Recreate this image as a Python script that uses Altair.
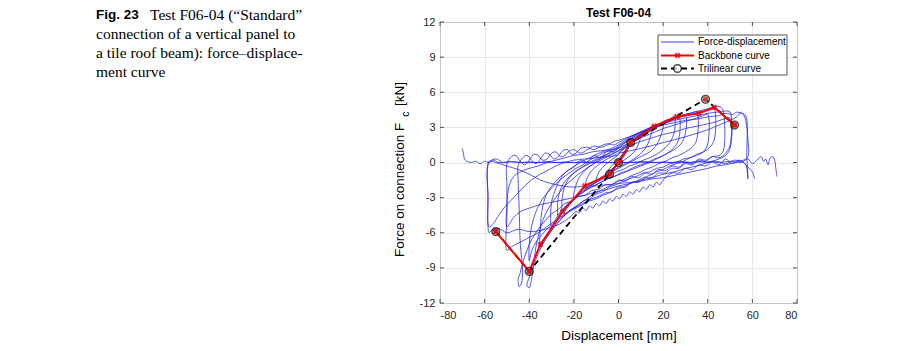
import altair as alt
import pandas as pd

# ---------------- data ----------------
X_TICKS = [-80, -60, -40, -20, 0, 20, 40, 60, 80]
Y_TICKS = [-12, -9, -6, -3, 0, 3, 6, 9, 12]

backbone_x = [-55, -40, -35, -25, -15, -4, 0, 5.5, 16, 26, 36, 43, 52]
backbone_y = [-5.9, -9.3, -7.0, -4.2, -2.0, -1.0, 0.0, 1.7, 3.1, 3.9, 4.2, 4.7, 3.2]

trilinear_x = [-55, -40, -4, 0, 5.5, 39, 52]
trilinear_y = [-5.9, -9.3, -1.0, 0.0, 1.7, 5.4, 3.2]

# hysteresis trace, read cycle by cycle (displacement [mm], force [kN])
c01_x = [0, 2, 4, 5, 4, 2, 0, -2, -4, -5, -4, -2, 0, 3, 6, 8, 10, 9, 7, 4, 1, -2, -5, -8, -10, -9, -7, -4, -1, 0]
c01_y = [0, 0.7, 1.3, 1.6, 1.0, 0.4, 0.0, -0.4, -0.8, -1.0, -0.5, -0.1, 0.3, 1.0, 1.7, 2.1, 2.4, 1.6, 0.9, 0.4, 0.0, -0.4, -0.9, -1.3, -1.6, -0.9, -0.4, 0.1, 0.5, 0.7]

c02_x = [0, 3, 6, 9, 12, 15, 14, 12, 9, 6, 3, 0, -3, -6, -9, -12, -15, -14, -12, -9, -6, -3, 0]
c02_y = [0.7, 1.3, 1.8, 2.3, 2.7, 3.0, 2.0, 1.2, 0.6, 0.2, -0.1, -0.4, -0.8, -1.2, -1.6, -1.9, -2.2, -1.3, -0.7, -0.2, 0.2, 0.5, 0.8]

c03_x = [0, 4, 8, 12, 16, 20, 19, 17, 14, 11, 8, 5, 2, -1, -4, -7, -10, -13, -16, -18, -20, -19, -17, -14, -11, -8, -5, -2, 0]
c03_y = [0.8, 1.4, 1.9, 2.4, 2.9, 3.4, 2.3, 1.5, 0.9, 0.6, 0.3, 0.0, -0.3, -0.6, -0.9, -1.3, -1.6, -2.0, -2.4, -2.7, -3.0, -1.9, -1.1, -0.5, -0.1, 0.2, 0.5, 0.8, 1.0]

c04_x = [0, 4, 8, 12, 16, 20, 23, 25, 25, 23, 20, 17, 14, 11, 8, 5, 2, -1, -4, -7, -10, -13, -16, -19, -22, -25, -25, -23, -20, -17, -14, -11, -8, -5, -2, 0]
c04_y = [1.0, 1.6, 2.1, 2.6, 3.0, 3.4, 3.7, 3.9, 2.6, 1.7, 1.1, 0.7, 0.4, 0.2, -0.1, -0.3, -0.6, -0.8, -1.1, -1.4, -1.7, -2.1, -2.5, -3.0, -3.6, -4.3, -2.7, -1.6, -0.9, -0.5, -0.1, 0.2, 0.5, 0.7, 1.0, 1.2]

c05_x = [0, 3, 6, 9, 12, 15, 18, 21, 24, 27, 30, 30, 28, 25, 22, 19, 16, 13, 10, 7, 4, 1, -2, -5, -8, -11, -14, -17, -20, -23, -26, -28, -30, -30, -28, -26, -23, -20, -17, -14, -11, -8, -5, -2, 0]
c05_y = [1.2, 1.7, 2.0, 2.5, 2.7, 3.1, 3.2, 3.6, 3.7, 3.9, 4.0, 2.5, 1.6, 1.1, 0.8, 0.5, 0.3, 0.0, -0.2, -0.4, -0.7, -0.9, -1.2, -1.4, -1.7, -2.0, -2.3, -2.7, -3.1, -3.6, -4.2, -4.8, -5.5, -3.4, -2.2, -1.4, -0.7, -0.4, 0.2, 0.0, 0.6, 0.4, 1.0, 0.9, 1.3]

c06_x = [0, 4, 8, 12, 16, 20, 24, 28, 32, 35, 35, 33, 30, 27, 24, 21, 18, 15, 12, 9, 6, 3, 0, -3, -6, -9, -12, -15, -18, -21, -24, -27, -30, -33, -35, -35, -34, -32, -29, -26, -22, -18, -14, -10, -6, -2, 0]
c06_y = [1.3, 1.8, 2.2, 2.6, 3.0, 3.3, 3.7, 4.0, 4.2, 4.3, 1.9, 1.3, 0.9, 0.6, 0.4, 0.1, -0.1, -0.4, -0.6, -0.9, -1.1, -1.4, -1.6, -1.9, -2.2, -2.5, -2.8, -3.2, -3.6, -4.0, -4.5, -5.1, -5.8, -6.6, -7.2, -5.5, -3.8, -2.6, -1.8, -1.2, -0.6, -0.1, 0.3, 0.7, 1.0, 1.3, 1.5]

c07_x = [0, 4, 8, 12, 16, 20, 24, 28, 32, 36, 40, 42, 43, 43, 41, 38, 35, 32, 29, 26, 23, 20, 17, 14, 11, 8, 5, 2, -1, -4, -7, -10, -13, -16, -19, -22, -25, -28, -31, -34, -36, -38, -40, -41, -40, -39, -38, -37, -35, -33, -30, -27, -24, -21, -18, -15, -12, -9, -6, -3, 0]
c07_y = [1.5, 2.0, 2.4, 2.8, 3.1, 3.4, 3.7, 4.0, 4.2, 4.4, 4.6, 4.7, 4.6, 2.0, 1.3, 0.9, 0.7, 0.4, 0.3, 0.0, -0.1, -0.4, -0.5, -0.8, -0.9, -1.2, -1.4, -1.6, -1.9, -2.1, -2.5, -2.7, -3.1, -3.3, -3.8, -4.1, -4.7, -5.3, -6.1, -7.0, -7.8, -8.8, -9.8, -10.5, -10.7, -10.0, -8.6, -7.2, -5.6, -4.5, -3.5, -2.7, -2.0, -1.5, -1.0, -0.6, -0.2, 0.2, 0.6, 1.0, 1.4]

c08_x = [0, 5, 10, 15, 20, 25, 30, 35, 38, 41, 44, 46, 47, 47, 45, 42, 39, 36, 33, 30, 27, 24, 21, 18, 15, 12, 9, 6, 3, 0, -3, -6, -9, -12, -15, -18, -21, -24, -27, -30, -33, -36, -39, -41, -43, -44, -45, -44.5, -43.5, -43, -44, -44.5, -45, -45, -43, -41, -39, -37, -35, -33, -31, -29, -27, -25, -23, -21, -19, -17, -14, -11, -8, -5, -2, 0]
c08_y = [1.4, 2.0, 2.5, 2.9, 3.3, 3.7, 4.0, 4.2, 4.4, 4.5, 4.8, 4.7, 4.3, 1.0, 0.6, 0.5, 0.2, 0.3, -0.1, 0.0, -0.4, -0.3, -0.7, -0.6, -1.0, -0.9, -1.3, -1.2, -1.6, -1.5, -1.9, -1.9, -2.3, -2.4, -2.8, -2.9, -3.3, -3.5, -4.0, -4.4, -5.0, -5.7, -6.6, -7.5, -8.6, -9.4, -10.0, -10.6, -10.3, -9.2, -7.0, -4.0, -1.5, -0.3, 0.4, 0.6, 0.2, -0.1, 0.3, 0.8, 0.7, 0.3, 0.5, 1.0, 1.1, 0.7, 0.8, 1.2, 1.3, 1.1, 1.4, 1.6, 1.5, 1.7]

c09_x = [0, 5, 10, 15, 20, 25, 30, 35, 40, 44, 48, 50, 50, 48, 45, 42, 39, 36, 33, 30, 27, 24, 21, 18, 15, 12, 9, 6, 3, 0, -3, -6, -9, -12, -15, -18, -21, -24, -27, -30, -33, -36, -39, -42, -45, -48, -50, -50, -50, -50, -48, -46, -44, -42, -40, -38, -36, -34, -32, -30, -28, -26, -24, -22, -20, -17, -14, -11, -8, -5, -2, 0]
c09_y = [1.7, 2.2, 2.6, 3.0, 3.3, 3.6, 3.8, 4.0, 4.2, 4.3, 4.4, 4.3, 1.5, 0.8, 0.4, 0.5, 0.1, 0.2, -0.2, -0.1, -0.5, -0.5, -0.9, -0.9, -1.3, -1.3, -1.7, -1.7, -2.1, -2.1, -2.5, -2.6, -2.9, -3.1, -3.4, -3.7, -4.0, -4.4, -4.8, -5.2, -5.6, -6.0, -6.3, -6.6, -6.9, -7.2, -7.5, -4.5, -2.0, -0.1, 0.5, 0.6, 0.1, -0.2, 0.2, 0.7, 0.6, 0.2, 0.3, 0.8, 0.9, 0.5, 0.6, 1.0, 1.1, 0.8, 1.1, 1.4, 1.3, 1.5, 1.8, 1.9]

c10_x = [0, 5, 10, 15, 20, 25, 30, 35, 40, 45, 48, 51, 53, 55, 57, 57.5, 58, 57, 54, 51, 48, 45, 42, 39, 36, 33, 30, 27, 24, 20, 18.5, 17, 15.5, 14, 12.5, 11, 9.5, 8, 6.5, 5, 3.5, 2, 0.5, -1, -2.5, -4, -5.5, -7, -8.5, -10, -11.5, -13, -14.5, -16, -17.5, -19, -22, -25, -28, -31, -35, -40, -45, -50, -54, -57, -58, -58.5, -58, -55, -52]
c10_y = [1.9, 2.2, 2.6, 2.9, 3.2, 3.4, 3.6, 3.7, 3.9, 4.0, 4.2, 4.1, 4.3, 4.2, 4.0, 0.5, -1.4, -0.2, 0.2, -0.1, 0.3, -0.2, 0.1, -0.3, -0.2, -0.6, -0.5, -0.9, -0.9, -1.5, -1.9, -1.7, -2.1, -1.9, -2.3, -2.1, -2.5, -2.3, -2.7, -2.5, -2.9, -2.7, -3.1, -2.9, -3.3, -3.1, -3.5, -3.3, -3.7, -3.5, -3.9, -3.7, -4.1, -3.9, -4.3, -4.2, -4.7, -5.1, -5.4, -5.6, -5.8, -5.9, -5.7, -6.0, -5.6, -5.8, -6.0, -3.0, 0.0, 0.3, 0.0]

c11_x = [-70, -69.5, -69, -68, -66, -64, -62, -60, -58, -56, -54, -52, -50, -48, -45, -40, -30, -20, -10, 0, 10, 20, 30, 40, 45, 50, 55, 58, 60, 62, 64, 65, 66, 67, 68, 69, 70, 70.5, 71]
c11_y = [1.2, 0.8, 0.3, 0.1, 0.0, 0.1, -0.1, 0.1, 0.0, 0.2, 0.0, 0.0, 0.0, 0.05, 0.0, 0.0, 0.0, 0.0, 0.0, 0.0, 0.0, 0.0, 0.0, 0.05, 0.0, 0.1, 0.0, 0.3, -0.1, 0.2, 0.5, 0.1, 0.3, -0.2, 0.4, 0.5, 0.2, -0.5, -1.2]

c12_x = [-52, -48, -44, -40, -36, -32, -28, -24, -20, -16, -12, -8, -4, 0, 4, 8, 12, 16, 20, 24, 28, 32, 36, 40, 44, 48, 52, 56, 58, 60, 61]
c12_y = [0.0, 0.1, 0.0, 0.05, 0.0, 0.1, 0.0, 0.05, 0.0, 0.05, 0.0, 0.05, 0.0, 0.05, 0.0, 0.05, 0.1, 0.0, 0.05, 0.0, 0.1, 0.0, 0.1, 0.0, 0.1, -0.1, 0.2, 0.0, -0.4, -0.8, -1.4]

c13_x = [0, 5, 10, 15, 20, 25, 30, 35, 38, 40, 40, 38, 35, 32, 29, 26, 23, 20, 17, 14, 11, 8, 5, 2, -1, -4, -7, -10, -13, -16, -19, -22, -25, -28, -31, -34, -37, -39, -40, -40, -39, -37, -34, -31, -28, -25, -22, -19, -16, -13, -10, -7, -4, -1, 0]
c13_y = [1.2, 1.7, 2.1, 2.5, 2.9, 3.2, 3.5, 3.8, 4.0, 4.1, 1.6, 0.9, 0.6, 0.4, 0.1, -0.1, -0.3, -0.6, -0.8, -1.1, -1.3, -1.6, -1.8, -2.1, -2.3, -2.6, -2.8, -3.1, -3.3, -3.6, -3.9, -4.2, -4.6, -5.0, -5.5, -6.1, -6.8, -7.6, -8.4, -7.0, -5.5, -4.2, -3.1, -2.4, -1.8, -1.3, -0.9, -0.5, -0.2, 0.2, 0.5, 0.8, 1.0, 1.2, 1.3]

c14_x = [0, 5, 10, 15, 20, 25, 30, 35, 40, 44, 47, 50, 50, 48, 45, 40, 35, 30, 25, 20, 15, 10, 5, 0, -5, -10, -15, -20, -25, -30, -35, -40, -44, -47, -50, -50, -49, -47, -44, -40, -36, -32, -28, -24, -20, -16, -12, -8, -4, 0]
c14_y = [1.0, 1.4, 1.8, 2.1, 2.4, 2.6, 2.9, 3.1, 3.3, 3.5, 3.7, 3.8, 1.2, 0.6, 0.3, 0.0, -0.3, -0.5, -0.8, -1.0, -1.3, -1.5, -1.8, -2.0, -2.3, -2.5, -2.8, -3.0, -3.2, -3.4, -3.6, -3.9, -4.2, -4.7, -5.5, -3.6, -2.0, -1.2, -0.8, -0.5, -0.3, 0.0, 0.2, 0.4, 0.6, 0.7, 0.9, 1.0, 1.1, 1.2]

c15_x = [0, 10, 20, 30, 40, 45, 50, 53, 55, 56, 57, 58, 58, 56, 52, 48, 44, 40, 35, 30, 25, 20, 15, 10, 5, 0, -5, -10, -15, -20, -25, -30, -35, -40, -45, -50, -55, -58, -58.5, -58, -56, -54, -51, -48, -45, -42, -39, -36, -33, -30, -27, -24, -20, -15, -10, -5, 0]
c15_y = [0.8, 1.2, 1.7, 2.2, 2.8, 3.2, 3.6, 3.9, 4.3, 4.1, 3.6, 2.0, 0.5, 0.2, 0.0, -0.2, -0.3, -0.5, -0.7, -0.9, -1.1, -1.3, -1.4, -1.6, -1.7, -1.8, -1.9, -2.0, -2.0, -2.1, -2.0, -1.8, -1.5, -1.0, -0.6, -0.3, 0.0, 0.1, -3.0, -5.5, -5.2, -4.6, -3.8, -3.2, -2.6, -2.0, -1.5, -1.1, -0.8, -0.5, -0.2, 0.0, 0.2, 0.3, 0.4, 0.5, 0.6]

c16_x = [0, 5, 10, 15, 20, 24, 27, 27, 25, 22, 18, 14, 10, 6, 2, -2, -6, -10, -14, -18, -22, -25, -27, -27, -25, -22, -18, -14, -10, -6, -2, 0]
c16_y = [1.0, 1.6, 2.2, 2.8, 3.3, 3.7, 4.0, 2.0, 1.3, 0.8, 0.4, 0.0, -0.3, -0.6, -0.9, -1.2, -1.5, -1.9, -2.3, -2.8, -3.4, -4.0, -4.6, -3.0, -1.9, -1.2, -0.6, -0.2, 0.2, 0.5, 0.8, 1.0]

cycles = [
    (c01_x, c01_y), (c02_x, c02_y), (c03_x, c03_y), (c04_x, c04_y),
    (c16_x, c16_y), (c05_x, c05_y), (c06_x, c06_y), (c07_x, c07_y),
    (c13_x, c13_y), (c08_x, c08_y), (c09_x, c09_y), (c14_x, c14_y),
    (c10_x, c10_y), (c15_x, c15_y), (c11_x, c11_y), (c12_x, c12_y),
]

caption_lines = [
    "connection of a vertical panel to",
    "a tile roof beam): force\u2013displace-",
    "ment curve",
]

# ---------------- tables ----------------
rows = []
for i, (xs, ys) in enumerate(cycles):
    for j, (xv, yv) in enumerate(zip(xs, ys)):
        rows.append({"x": xv, "y": yv, "seg": i, "ord": j})
hyst = pd.DataFrame(rows)
bb = pd.DataFrame({"x": backbone_x, "y": backbone_y, "ord": range(len(backbone_x))})
tri = pd.DataFrame({"x": trilinear_x, "y": trilinear_y, "ord": range(len(trilinear_x))})
xt = pd.DataFrame({"x": X_TICKS})
yt = pd.DataFrame({"y": Y_TICKS})

W, H = 357, 281
FONT = "Liberation Sans"
AX = "#262626"

xscale = alt.Scale(domain=[-80, 80], nice=False, zero=False)
yscale = alt.Scale(domain=[-12, 12], nice=False, zero=False)
xaxis = alt.Axis(values=X_TICKS, title="Displacement [mm]", grid=True, ticks=False,
                 domain=False, labelPadding=6, titlePadding=8, titleFontSize=13.5,
                 titleFontWeight="normal", labelFontSize=11, labelExpr="'' + datum.value")
yaxis = alt.Axis(values=Y_TICKS, title=None, grid=True, ticks=False, domain=False,
                 labelPadding=5, labelFontSize=11, labelExpr="'' + datum.value")
X = alt.X("x:Q", scale=xscale, axis=xaxis)
Y = alt.Y("y:Q", scale=yscale, axis=yaxis)

hyst_layer = alt.Chart(hyst).mark_line(color="#2222e6", strokeWidth=0.9, opacity=0.85,
                                       interpolate="catmull-rom").encode(
    x=X, y=Y, detail="seg:N", order="ord:Q")

tri_line = alt.Chart(tri).mark_line(color="black", strokeWidth=1.8, strokeDash=[6, 4]).encode(
    x=X, y=Y, order="ord:Q")
bb_line = alt.Chart(bb).mark_line(color="#ff0000", strokeWidth=2).encode(x=X, y=Y, order="ord:Q")
bb_pts = alt.Chart(bb).mark_point(shape="cross", filled=True, color="#e00000", size=40, angle=45).encode(x=X, y=Y)
tri_pts = alt.Chart(tri).mark_point(shape="circle", filled=False, color="black", strokeWidth=1.5, size=60).encode(x=X, y=Y)
bb_fill = alt.Chart(tri).mark_point(shape="circle", filled=True, color="#d83a2e", size=30, opacity=0.9).encode(x=X, y=Y)

# inward ticks on all four sides
tk = 4
tb = alt.Chart(xt).mark_rule(color=AX, strokeWidth=0.8).encode(x=X, y=alt.value(H), y2=alt.value(H - tk))
tt = alt.Chart(xt).mark_rule(color=AX, strokeWidth=0.8).encode(x=X, y=alt.value(0), y2=alt.value(tk))
tl = alt.Chart(yt).mark_rule(color=AX, strokeWidth=0.8).encode(y=Y, x=alt.value(0), x2=alt.value(tk))
tr = alt.Chart(yt).mark_rule(color=AX, strokeWidth=0.8).encode(y=Y, x=alt.value(W), x2=alt.value(W - tk))

one = alt.Data(values=[{}])

# legend
LX0, LX1, LY0, LY1 = 218, 347, 13, 53
leg_box = alt.Chart(one).mark_rect(fill="white", stroke=AX, strokeWidth=0.8).encode(
    x=alt.value(LX0), x2=alt.value(LX1), y=alt.value(LY0), y2=alt.value(LY1))
rows_y = [20, 33.5, 46.5]
leg_l1 = alt.Chart(one).mark_rule(color="#3b3bf0", strokeWidth=1).encode(
    x=alt.value(221), x2=alt.value(254), y=alt.value(rows_y[0]))
leg_l2 = alt.Chart(one).mark_rule(color="#ff0000", strokeWidth=2).encode(
    x=alt.value(221), x2=alt.value(254), y=alt.value(rows_y[1]))
leg_m2 = alt.Chart(one).mark_point(shape="cross", filled=True, color="#e00000", size=40, angle=45).encode(
    x=alt.value(237.5), y=alt.value(rows_y[1]))
leg_l3 = alt.Chart(one).mark_rule(color="black", strokeWidth=1.8, strokeDash=[6, 4]).encode(
    x=alt.value(221), x2=alt.value(254), y=alt.value(rows_y[2]))
leg_m3 = alt.Chart(one).mark_point(shape="circle", filled=True, fill="white", stroke="black", strokeWidth=1.5, size=60).encode(
    x=alt.value(237.5), y=alt.value(rows_y[2]))
leg_texts = [
    alt.Chart(one).mark_text(align="left", baseline="middle", fontSize=10, font=FONT, color="black").encode(
        x=alt.value(258), y=alt.value(ry), text=alt.value(t))
    for ry, t in zip(rows_y, ["Force-displacement", "Backbone curve", "Trilinear curve"])
]

# title
title = alt.Chart(one).mark_text(fontSize=12, fontWeight="bold", font=FONT, color="black", baseline="middle").encode(
    x=alt.value(W / 2), y=alt.value(-9.5), text=alt.value("Test F06-04"))

# y-axis title with subscript
yt1 = alt.Chart(one).mark_text(angle=270, align="left", baseline="middle", fontSize=13.5, font=FONT, color="black").encode(
    x=alt.value(-40), y=alt.value(235), text=alt.value("Force on connection F"))
yt2 = alt.Chart(one).mark_text(angle=270, align="center", baseline="middle", fontSize=10.5, font=FONT, color="black").encode(
    x=alt.value(-34), y=alt.value(92), text=alt.value("c"))
yt3 = alt.Chart(one).mark_text(angle=270, align="left", baseline="middle", fontSize=13.5, font=FONT, color="black").encode(
    x=alt.value(-40), y=alt.value(84), text=alt.value("[kN]"))

# caption on the left
cap_fig = alt.Chart(one).mark_text(align="left", baseline="middle", fontSize=13.5, fontWeight="bold", font=FONT, color="black").encode(
    x=alt.value(-344), y=alt.value(-7), text=alt.value("Fig. 23"))
cap_first = alt.Chart(one).mark_text(align="left", baseline="middle", fontSize=15.5, font="Liberation Serif", color="black").encode(
    x=alt.value(-290), y=alt.value(-7), text=alt.value("Test F06-04 (\u201cStandard\u201d"))
cap_rest = [
    alt.Chart(one).mark_text(align="left", baseline="middle", fontSize=15.5, font="Liberation Serif", color="black").encode(
        x=alt.value(-344), y=alt.value(-7 + 19 * (k + 1)), text=alt.value(t))
    for k, t in enumerate(caption_lines)
]

chart = alt.layer(
    hyst_layer, tri_line, bb_line, bb_fill, bb_pts, tri_pts,
    tb, tt, tl, tr,
    leg_box, leg_l1, leg_l2, leg_m2, leg_l3, leg_m3, *leg_texts,
    title, yt1, yt2, yt3, cap_fig, cap_first, *cap_rest,
).properties(
    width=W, height=H,
    padding={"left": 440, "top": 22, "right": 103, "bottom": 48},
    autosize=alt.AutoSizeParams(type="none"),
    background="white",
).configure_view(
    stroke="#555555", strokeWidth=1
).configure_axis(
    labelFont=FONT, titleFont=FONT, labelColor=AX, titleColor="black",
    gridColor="#e3e3e3", gridWidth=0.8,
)

chart.save("out.html", embed_options={"renderer": "svg", "actions": False})
